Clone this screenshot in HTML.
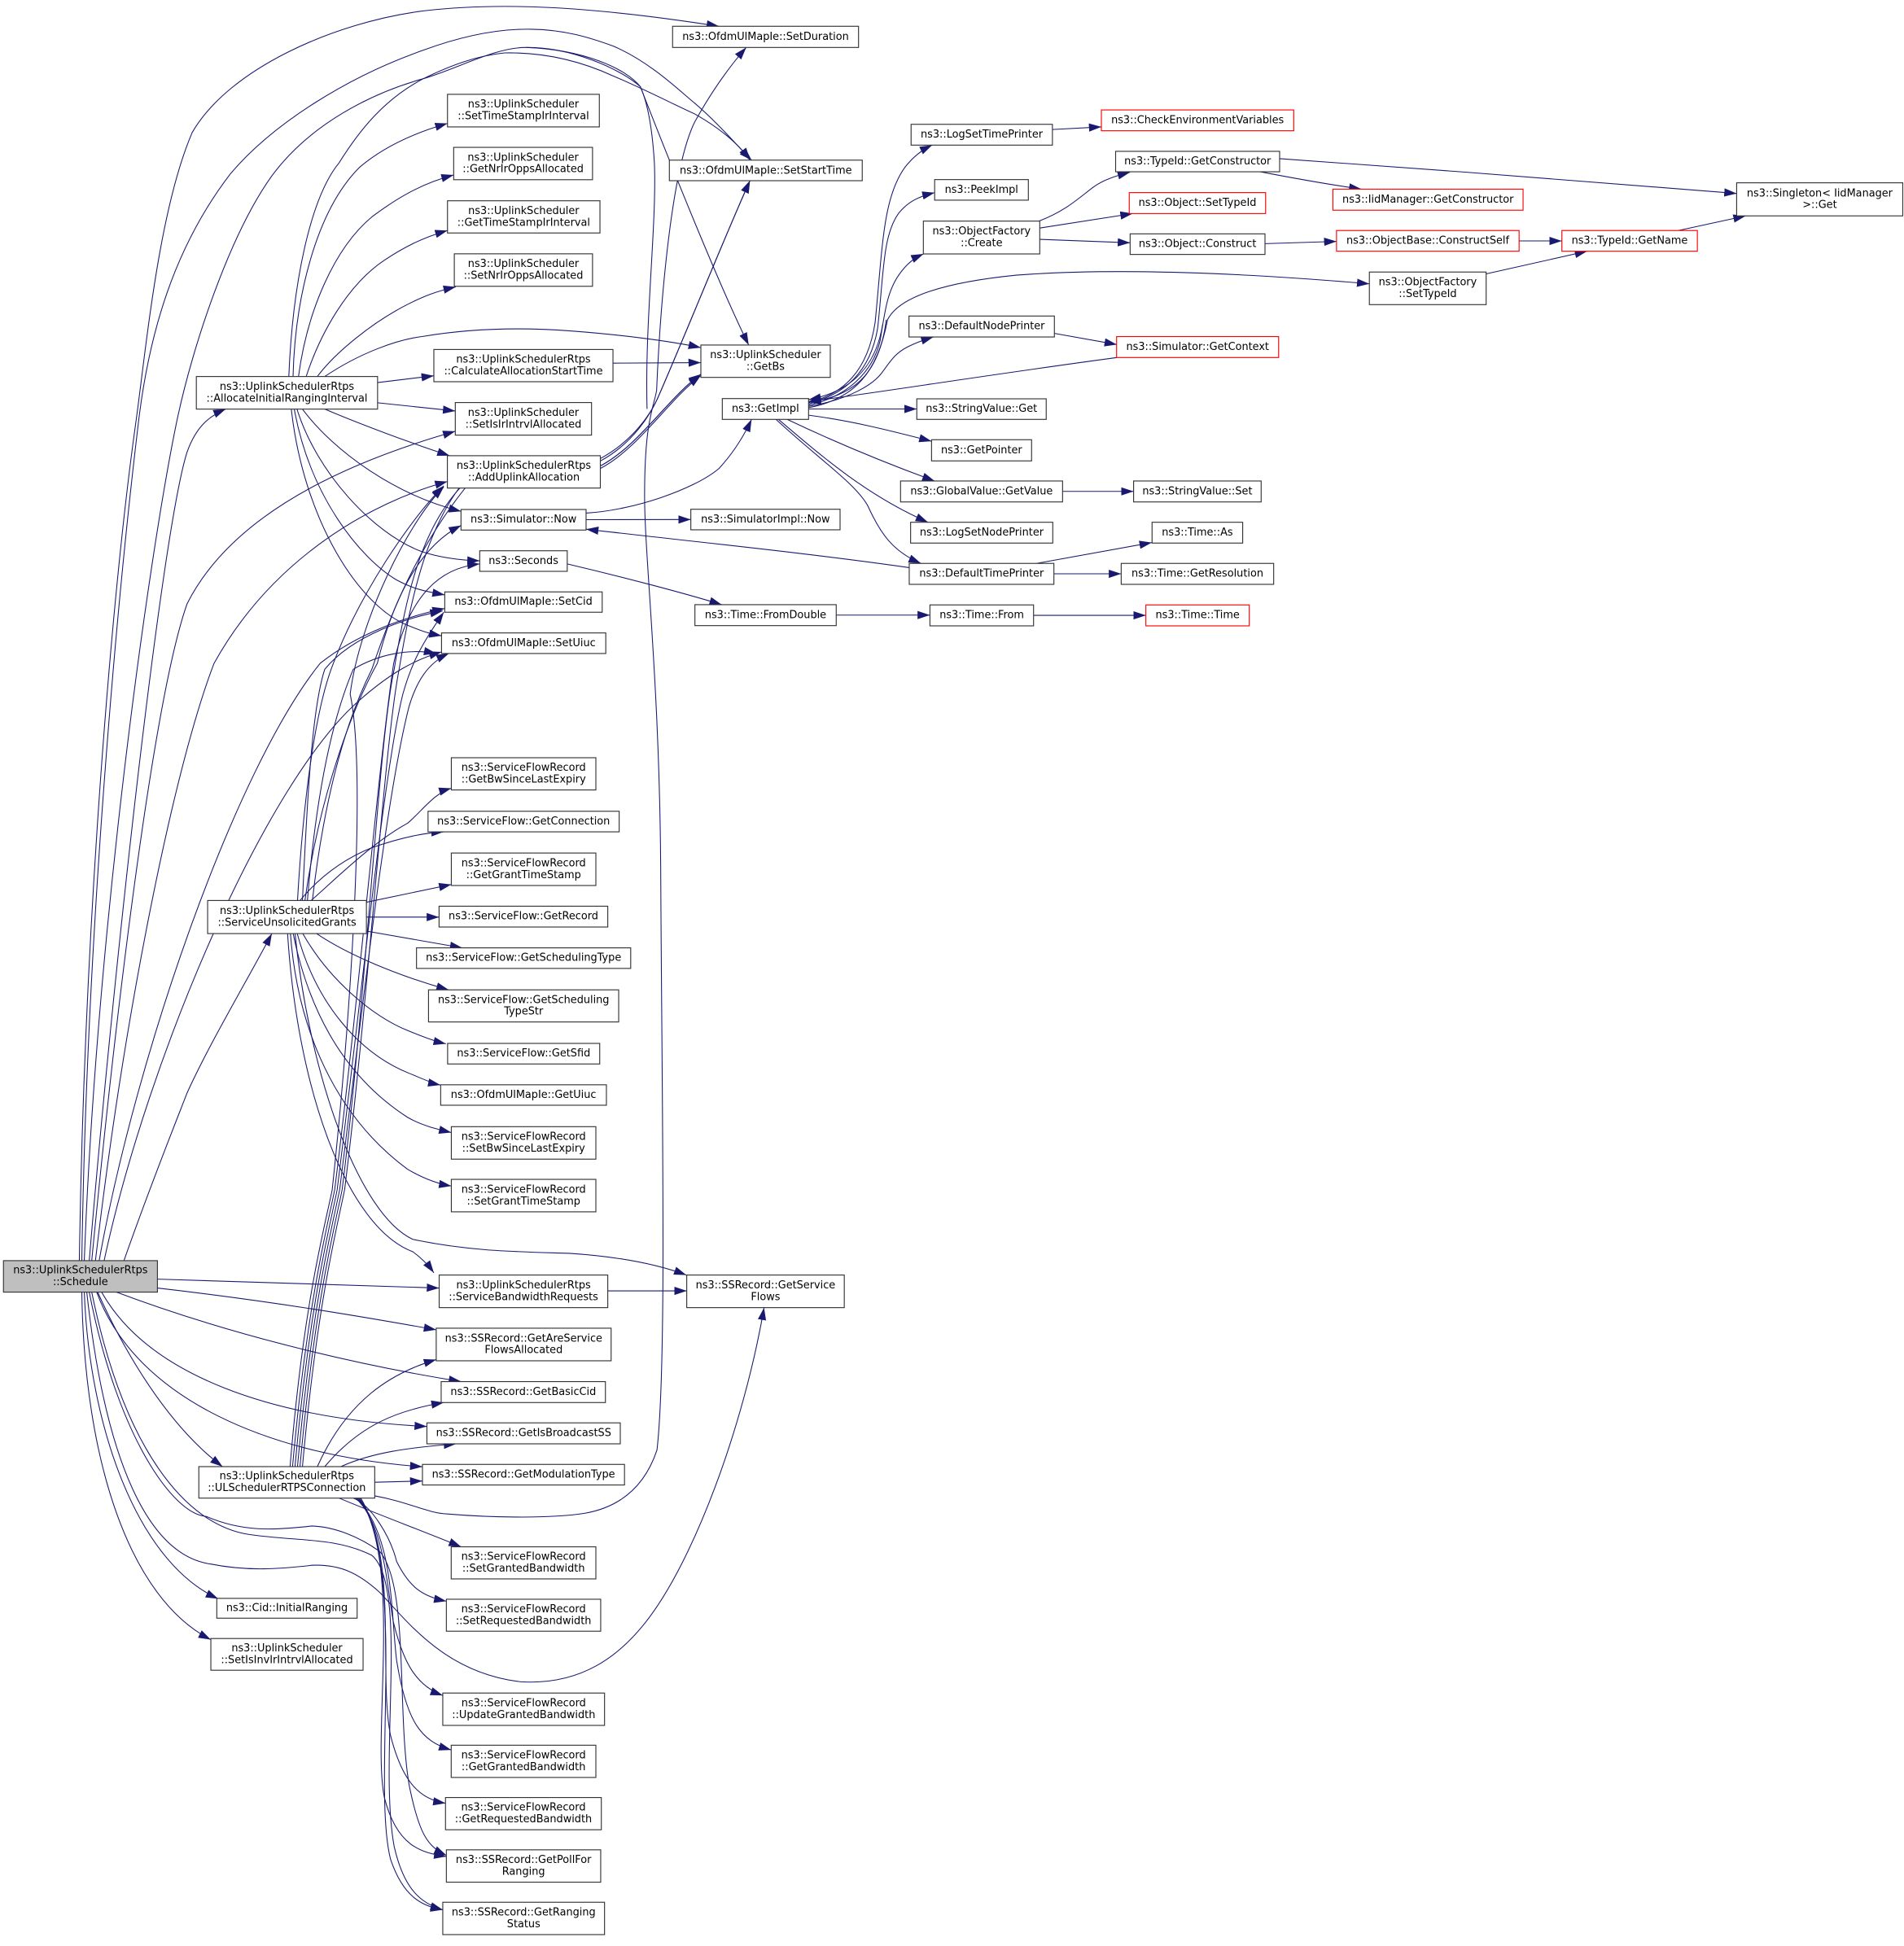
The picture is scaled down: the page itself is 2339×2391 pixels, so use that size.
<!DOCTYPE html>
<html><head><meta charset="utf-8">
<style>
html,body{margin:0;padding:0;background:#fff;}
svg{display:block;}
text{font-family:"DejaVu Sans","Liberation Sans",sans-serif;font-size:8.45px;fill:#000;text-anchor:middle;}
.n{fill:#fff;stroke:#333;stroke-width:0.75;}
.r{fill:#fff;stroke:#ff0000;stroke-width:0.75;}
.g{fill:#bfbfbf;stroke:#333;stroke-width:0.75;}
.e{fill:none;stroke:#191970;stroke-width:0.7;marker-end:url(#a);}
.w{fill:none;stroke:#191970;stroke-width:0.7;}
</style></head>
<body>
<svg xmlns="http://www.w3.org/2000/svg" width="2339" height="2391" viewBox="0 0 1536 1570.2" preserveAspectRatio="none">
<defs>
<marker id="a" markerUnits="userSpaceOnUse" markerWidth="10" markerHeight="7" refX="9.6" refY="3.2" orient="auto" viewBox="0 0 9.6 6.4"><path d="M0,0 L9.6,3.2 L0,6.4 z" fill="#191970"/></marker>
</defs>
<rect x="0" y="0" width="1536" height="1570.2" fill="#fff"/>

<!-- ===== EDGES ===== -->
<!-- right side -->
<path class="e" d="M652,325 C680,318 700,300 706,260 C712,200 712,160 730,135 C737,126 744,121 752,117.1"/>
<path class="e" d="M652,326 C682,318 702,300 708,265 C713,220 712,190 725,172 C733,162 743,158 754,155.5"/>
<path class="e" d="M652,327 C684,320 704,300 710,275 C714,250 716,235 725,222 C732,212 738,208 745,204.9"/>
<path class="e" d="M652,328 C686,322 705,310 712,300 C718,292 722,285 732,280 C740,276 746,274 753,271.9"/>
<path class="e" d="M652,329 C690,322 708,300 716,258 C725,240 760,228 820,222 C900,216 1000,220 1104.7,229"/>
<path class="e" d="M712,262 C706,300 682,317 652.3,322.5"/>
<path class="e" d="M715,258 C709,305 686,320 652.3,324.5"/>
<path class="e" d="M652.3,330 L739.6,330"/>
<path class="e" d="M652.3,335 C690,340 720,348 751.5,356"/>
<path class="e" d="M635,338.4 C670,355 710,372 754,388.1"/>
<path class="e" d="M628,338.4 C665,370 700,400 748.6,421.4"/>
<path class="e" d="M626,338.4 C660,370 690,390 700,408 C710,430 720,445 743,454.6"/>
<path class="e" d="M901,288.5 C800,302 700,318 652.3,324"/>
<path class="e" d="M850.6,269 L901,278"/>
<path class="e" d="M849,104.5 L888.5,102.4"/>
<path class="e" d="M838,178.5 C860,170 870,160 882,151 C890,145 900,142 911.6,139"/>
<path class="e" d="M838.8,184 L913.8,172.3"/>
<path class="e" d="M838.8,193.1 L911.7,195.9"/>
<path class="e" d="M1016.8,138.6 C1050,145 1080,150 1098.3,152.6"/>
<path class="e" d="M1032.3,128 C1150,136 1300,148 1401,156.1"/>
<path class="e" d="M1020.5,196.6 L1078.2,194.8"/>
<path class="e" d="M1225.5,194.4 L1260,194.4"/>
<path class="e" d="M1198.9,221 L1280.4,202.7"/>
<path class="e" d="M1353.9,186 L1408.3,174.2"/>
<path class="e" d="M857.2,396.5 L914.5,396.5"/>
<path class="e" d="M836.2,454.6 L929.2,437.8"/>
<path class="e" d="M850.2,463 L904.5,463"/>
<path class="e" d="M833.8,496.5 L924.4,496.5"/>
<path class="e" d="M674.6,496.3 L750.2,496.3"/>
<path class="e" d="M733.5,458 C650,446 550,436 472.8,427"/>
<path class="e" d="M472.8,419.3 L557.3,419.2"/>
<path class="e" d="M472.8,414 C510,412 560,395 580,378 C592,365 600,352 606.3,338.4"/>
<path class="e" d="M457.6,455 C500,465 550,478 582.3,487.9"/>
<path class="e" d="M494.5,293 L565.4,292.6"/>
<path class="e" d="M490.3,1041.6 L554,1041.6"/>

<!-- AIRI edges -->
<path class="e" d="M262,303.8 C290,285 320,274 341.5,271.4 C380,265 420,264 460,267 C500,270 540,275 565.4,280.5"/>
<path class="e" d="M236.4,303.8 C238,240 255,170 290,135 C310,118 335,107 361,99.6"/>
<path class="e" d="M240.8,303.8 C248,250 270,200 300,175 C320,160 340,148 366,141.2"/>
<path class="e" d="M247,303.8 C258,270 280,230 310,210 C325,200 340,192 361,186"/>
<path class="e" d="M256,303.8 C270,285 300,260 330,245 C342,239 352,235 367.7,231.5"/>
<path class="e" d="M233,303.8 C236,230 250,160 273.6,131.3 C290,105 310,80 341.5,63.5 C365,52 385,45 407,42.7 C440,42 470,50 494.7,61.3 C520,72 545,85 560.4,91.9 C580,103 595,115 605,129.2"/>
<path class="e" d="M304.6,308.7 L350,303.2"/>
<path class="e" d="M304.6,325 L367.3,331.6"/>
<path class="e" d="M262,330.1 C290,342 330,357 362.7,367.7"/>
<path class="e" d="M244,330.1 C270,365 320,400 372,412.6"/>
<path class="e" d="M239.6,330.1 C255,380 300,430 340,445 C355,450 370,452 387,452.5"/>
<path class="e" d="M237.4,330.1 C250,400 290,450 320,468 C333,475 342,477 358.8,480"/>
<path class="e" d="M235,330.1 C245,420 290,490 330,505 C340,509 345,511 356.2,513"/>

<!-- Schedule edges -->
<path class="e" d="M72,1017.2 C90,800 130,430 151,364.5 C158,345 168,336 182.1,330.1"/>
<path class="e" d="M64,1017.2 C68,750 90,480 109.5,341.5 C118,280 128,170 155,107 C185,55 270,18 341.5,8.8 C400,2 470,4 580,21.2"/>
<path class="e" d="M66,1017.2 C70,750 95,480 111.6,341.5 C120,270 140,200 186,140.1 C220,100 280,62 341.5,40.5 C370,30 400,23 429,23.6 C455,24 475,30 494.7,37.2 C525,50 550,75 560.4,83.2 C580,100 595,118 606.3,129.2"/>
<path class="e" d="M68,1017.2 C78,750 120,450 142.3,341.5 C155,280 185,190 219,142.3 C250,100 300,75 341.5,63.5 C370,55 400,38 424.7,38.3 C460,38 500,55 516.6,70 C540,130 580,230 604,278.4"/>
<path class="w" d="M424.7,38.3 C470,40 505,55 516.6,70 C522,82 526,100 527.9,131.3 C530,180 520,260 522,330"/>
<path class="e" d="M74,1017.2 C95,800 125,560 151,487 C190,410 290,370 367.3,348"/>
<path class="e" d="M77,1017.2 C100,820 140,620 172.7,535.2 C220,450 300,405 360.9,388.5"/>
<path class="e" d="M80,1017.2 C110,850 190,620 258.3,535.2 C290,510 330,497 358.8,491"/>
<path class="e" d="M84,1017.2 C120,850 215,630 290,565 C315,543 335,532 356.2,526"/>
<path class="e" d="M100,1017.2 C120,960 140,910 151,881.7 C170,840 200,790 219.3,753.3"/>
<path class="e" d="M127,1032.1 L354.3,1039.3"/>
<path class="e" d="M127,1039.3 C220,1050 290,1062 351.9,1073"/>
<path class="e" d="M94,1042.6 C180,1075 280,1100 372,1114.8"/>
<path class="e" d="M82,1042.6 C120,1110 220,1145 344.4,1151"/>
<path class="e" d="M78,1042.6 C110,1130 220,1175 340.8,1183.5"/>
<path class="e" d="M78.8,1042.6 C100,1090 135,1150 179.5,1183.4"/>
<path class="e" d="M68,1042.6 C72,1150 110,1260 176,1290"/>
<path class="e" d="M66,1042.6 C68,1180 105,1290 170.1,1323"/>
<path class="e" d="M70,1042.6 C85,1180 120,1255 170,1262 C200,1268 225,1266 251.7,1263 C275,1262 290,1270 306.5,1285 C330,1310 360,1350 420,1357 C470,1360 500,1335 520,1310 C560,1260 600,1150 616.4,1055.1"/>
<path class="e" d="M72,1042.6 C95,1160 140,1222 166.4,1223.6 C195,1236 220,1235 251.7,1231.3 C270,1232 290,1240 306.5,1252 C330,1280 320,1380 330,1440 C338,1480 345,1490 360.1,1497"/>
<path class="e" d="M74,1042.6 C100,1170 150,1230 200,1238 C240,1244 270,1240 300,1255 C330,1280 305,1420 318,1490 C326,1525 340,1536 357.2,1541"/>

<!-- SUG edges -->
<path class="e" d="M251,726.6 C270,710 300,680 328.7,664.3 C340,655 350,640 364.1,636"/>
<path class="e" d="M242,726.6 C260,705 280,692 300,684 C320,677 340,672 358,671.2"/>
<path class="e" d="M295.6,728 L364.1,713.7"/>
<path class="e" d="M295.6,740 L354.2,740"/>
<path class="e" d="M295.6,751.3 L373,764.8"/>
<path class="e" d="M255.4,753.3 C280,770 320,787 362,798.7"/>
<path class="e" d="M244.3,753.3 C265,790 300,820 330,832 C340,836 350,840 359.7,842.2"/>
<path class="e" d="M239.8,753.3 C255,810 290,850 330,866 C340,870 348,874 355.3,875.5"/>
<path class="e" d="M236.5,753.3 C250,820 280,870 328.7,901.5 C340,908 352,911 364.1,913.8"/>
<path class="e" d="M234.3,753.3 C240,830 270,900 328.7,943.4 C340,950 352,955 364.1,957"/>
<path class="e" d="M232,753.3 C240,880 280,990 333,1010 C340,1015 345,1020 350,1027"/>
<path class="e" d="M238,753.3 C250,870 290,980 333,1000 C380,1010 420,1010 459.5,1011.3 C500,1014 530,1020 553.7,1028.8"/>
<path class="e" d="M240,726.6 C245,640 255,570 269,535 C290,480 330,420 358,392"/>
<path class="e" d="M244,726.6 C248,640 252,570 262,540 C285,512 330,498 357,493"/>
<path class="e" d="M248,726.6 C255,640 268,580 285,540 C305,528 330,523 352,527.3"/>
<path class="e" d="M246,726.6 C258,640 285,570 304.4,535.2 C318,480 340,440 372,424"/>
<path class="e" d="M252,726.6 C262,640 280,580 300,540 C320,480 345,430 380,388 C420,376 470,377 484.3,378 C515,362 540,322 565.4,303"/>

<!-- ULC edges -->
<path class="e" d="M234,1183.4 C245,1050 262,990 268,960 C285,800 295,620 282.5,560 C290,500 330,420 358,393"/>
<path class="e" d="M236,1183.4 C248,1050 264,990 270,960 C290,800 305,620 317.6,535.2 C330,480 355,458 387,455"/>
<path class="e" d="M238,1183.4 C250,1050 266,990 272,960 C292,800 310,620 325,560 C332,535 340,520 358,494"/>
<path class="e" d="M240,1183.4 C252,1050 268,990 274,960 C294,800 312,640 330,570 C336,550 345,535 362,527.3"/>
<path class="e" d="M242,1183.4 C254,1050 270,990 276,960 C296,800 305,600 318,540 C328,480 340,420 380,385 C420,372 470,373 484.3,376 C515,360 540,320 565.4,302"/>
<path class="e" d="M302.3,1207 C330,1212 345,1221 361,1221.6 C390,1224 440,1226 472,1221 C500,1216 520,1200 530,1170 C538,1100 534,900 533,700 C532,550 520,450 520,400 C520,340 527,330 529.7,315.2 C532,260 540,140 560.4,98.5 C575,72 590,52 602,38.3"/>
<path class="e" d="M273.6,1208.8 C300,1220 340,1235 372,1248.1"/>
<path class="e" d="M285,1208.8 C300,1215 315,1240 320,1260 C330,1280 340,1288 360.1,1292"/>
<path class="e" d="M287,1208.8 C310,1230 312,1280 317.4,1309 C325,1340 335,1360 357.2,1368"/>
<path class="e" d="M288,1208.8 C318,1240 315,1300 320,1340 C328,1390 340,1405 364,1412"/>
<path class="e" d="M289,1208.8 C322,1250 305,1350 315,1400 C325,1440 340,1452 359.4,1455"/>
<path class="e" d="M290,1208.8 C325,1260 300,1400 310,1450 C320,1490 340,1495 360.1,1498"/>
<path class="e" d="M291,1208.8 C328,1270 300,1440 315,1500 C325,1530 340,1538 357.2,1541"/>
<path class="e" d="M256,1183.4 C280,1130 315,1108 351.9,1097"/>
<path class="e" d="M262,1183.4 C290,1150 320,1138 358,1131.7"/>
<path class="e" d="M275,1183.4 C300,1172 330,1168 368,1165"/>
<path class="e" d="M302.3,1196 L340.8,1195"/>
<path class="e" d="M244,1183.4 C256,1050 272,990 278,960 C298,800 310,600 322,540 C332,480 345,420 380,382 C420,370 470,371 484.3,370 C510,356 525,335 532,318 C555,265 585,190 605,145.8"/>

<!-- AUA edges -->
<path class="e" d="M484.3,372 C510,358 525,335 532,318 C555,265 585,190 605,145.8"/>
<path class="e" d="M484.3,376 C515,360 540,320 565.4,302"/>

<!-- ===== NODES ===== -->
<rect class="g" x="2.8" y="1017.2" width="124.2" height="25.4"/>
<text x="64.9" y="1027.5">ns3::UplinkSchedulerRtps</text><text x="64.9" y="1037">::Schedule</text>

<rect class="n" x="158.4" y="303.8" width="146.2" height="26.3"/>
<text x="231.5" y="314.6">ns3::UplinkSchedulerRtps</text><text x="231.5" y="324.1">::AllocateInitialRangingInterval</text>

<rect class="n" x="167.5" y="726.6" width="128.1" height="26.7"/>
<text x="231.55" y="737.6">ns3::UplinkSchedulerRtps</text><text x="231.55" y="747.1">::ServiceUnsolicitedGrants</text>

<rect class="n" x="160.4" y="1183.4" width="141.9" height="25.4"/>
<text x="231.35" y="1193.7">ns3::UplinkSchedulerRtps</text><text x="231.35" y="1203.2">::ULSchedulerRTPSConnection</text>

<rect class="n" x="174.9" y="1289.7" width="113.2" height="16"/>
<text x="231.5" y="1300">ns3::Cid::InitialRanging</text>

<rect class="n" x="170.1" y="1322.1" width="122.8" height="25.6"/>
<text x="231.5" y="1332.5">ns3::UplinkScheduler</text><text x="231.5" y="1342">::SetIsInvIrIntrvlAllocated</text>

<rect class="n" x="361" y="76.1" width="122.5" height="26.3"/>
<text x="422.25" y="86.85">ns3::UplinkScheduler</text><text x="422.25" y="96.35">::SetTimeStampIrInterval</text>

<rect class="n" x="366" y="118.9" width="112" height="26.1"/>
<text x="422" y="129.55">ns3::UplinkScheduler</text><text x="422" y="139.05">::GetNrIrOppsAllocated</text>

<rect class="n" x="361" y="162" width="123" height="26"/>
<text x="422.5" y="172.6">ns3::UplinkScheduler</text><text x="422.5" y="182.1">::GetTimeStampIrInterval</text>

<rect class="n" x="366.5" y="204.8" width="111.5" height="26.2"/>
<text x="422.25" y="215.5">ns3::UplinkScheduler</text><text x="422.25" y="225">::SetNrIrOppsAllocated</text>

<rect class="n" x="350" y="282" width="144.5" height="26"/>
<text x="422.25" y="292.6">ns3::UplinkSchedulerRtps</text><text x="422.25" y="302.1">::CalculateAllocationStartTime</text>

<rect class="n" x="367.3" y="324.8" width="109.9" height="26.3"/>
<text x="422.25" y="335.55">ns3::UplinkScheduler</text><text x="422.25" y="345.05">::SetIsIrIntrvlAllocated</text>

<rect class="n" x="360.9" y="367.7" width="123.4" height="26.1"/>
<text x="422.6" y="378.35">ns3::UplinkSchedulerRtps</text><text x="422.6" y="387.85">::AddUplinkAllocation</text>

<rect class="n" x="371.9" y="411.1" width="100.9" height="16.6"/>
<text x="422.35" y="421.7">ns3::Simulator::Now</text>

<rect class="n" x="387" y="444.4" width="70.6" height="16.6"/>
<text x="422.3" y="455">ns3::Seconds</text>

<rect class="n" x="358.8" y="477.6" width="127" height="16.4"/>
<text x="422.3" y="488.1">ns3::OfdmUlMapIe::SetCid</text>

<rect class="n" x="356.2" y="510.7" width="132.5" height="16.6"/>
<text x="422.45" y="521.3">ns3::OfdmUlMapIe::SetUiuc</text>

<rect class="n" x="364.1" y="611.4" width="116.6" height="26"/>
<text x="422.4" y="622">ns3::ServiceFlowRecord</text><text x="422.4" y="631.5">::GetBwSinceLastExpiry</text>

<rect class="n" x="345.3" y="654.6" width="154.2" height="16.6"/>
<text x="422.4" y="665.2">ns3::ServiceFlow::GetConnection</text>

<rect class="n" x="364.1" y="688.3" width="116.6" height="26.2"/>
<text x="422.4" y="699">ns3::ServiceFlowRecord</text><text x="422.4" y="708.5">::GetGrantTimeStamp</text>

<rect class="n" x="354.2" y="731.2" width="136.1" height="16.8"/>
<text x="422.25" y="741.9">ns3::ServiceFlow::GetRecord</text>

<rect class="n" x="336" y="764.8" width="172.8" height="16.6"/>
<text x="422.4" y="775.4">ns3::ServiceFlow::GetSchedulingType</text>

<rect class="n" x="345.7" y="798.7" width="153.4" height="25.9"/>
<text x="422.4" y="809.25">ns3::ServiceFlow::GetScheduling</text><text x="422.4" y="818.75">TypeStr</text>

<rect class="n" x="361.1" y="841.9" width="122.7" height="16.6"/>
<text x="422.45" y="852.5">ns3::ServiceFlow::GetSfid</text>

<rect class="n" x="355.5" y="875.3" width="133.7" height="16.5"/>
<text x="422.35" y="885.85">ns3::OfdmUlMapIe::GetUiuc</text>

<rect class="n" x="364.1" y="909.1" width="116.6" height="26.2"/>
<text x="422.4" y="919.8">ns3::ServiceFlowRecord</text><text x="422.4" y="929.3">::SetBwSinceLastExpiry</text>

<rect class="n" x="364.1" y="951.6" width="116.6" height="26.2"/>
<text x="422.4" y="962.3">ns3::ServiceFlowRecord</text><text x="422.4" y="971.8">::SetGrantTimeStamp</text>

<rect class="n" x="354.3" y="1028.8" width="136" height="26.3"/>
<text x="422.3" y="1039.55">ns3::UplinkSchedulerRtps</text><text x="422.3" y="1049.05">::ServiceBandwidthRequests</text>

<rect class="n" x="351.9" y="1071.7" width="141.1" height="26.3"/>
<text x="422.45" y="1082.45">ns3::SSRecord::GetAreService</text><text x="422.45" y="1091.95">FlowsAllocated</text>

<rect class="n" x="355.9" y="1114.8" width="132.5" height="16.9"/>
<text x="422.15" y="1125.55">ns3::SSRecord::GetBasicCid</text>

<rect class="n" x="344.4" y="1148.1" width="156" height="16.9"/>
<text x="422.4" y="1158.85">ns3::SSRecord::GetIsBroadcastSS</text>

<rect class="n" x="340.8" y="1181.6" width="163" height="16.6"/>
<text x="422.3" y="1192.2">ns3::SSRecord::GetModulationType</text>

<rect class="n" x="364" y="1248.1" width="116.7" height="25.9"/>
<text x="422.35" y="1258.65">ns3::ServiceFlowRecord</text><text x="422.35" y="1268.15">::SetGrantedBandwidth</text>

<rect class="n" x="360.1" y="1290.4" width="124.5" height="25.8"/>
<text x="422.35" y="1300.9">ns3::ServiceFlowRecord</text><text x="422.35" y="1310.4">::SetRequestedBandwidth</text>

<rect class="n" x="357.2" y="1366.1" width="130.5" height="26.1"/>
<text x="422.45" y="1376.75">ns3::ServiceFlowRecord</text><text x="422.45" y="1386.25">::UpdateGrantedBandwidth</text>

<rect class="n" x="364" y="1408.2" width="116.7" height="26"/>
<text x="422.35" y="1418.8">ns3::ServiceFlowRecord</text><text x="422.35" y="1428.3">::GetGrantedBandwidth</text>

<rect class="n" x="359.4" y="1450.4" width="125.7" height="26"/>
<text x="422.25" y="1461">ns3::ServiceFlowRecord</text><text x="422.25" y="1470.5">::GetRequestedBandwidth</text>

<rect class="n" x="360.1" y="1492.6" width="124.5" height="26.1"/>
<text x="422.35" y="1503.25">ns3::SSRecord::GetPollFor</text><text x="422.35" y="1512.75">Ranging</text>

<rect class="n" x="357.2" y="1534.9" width="130.5" height="26.1"/>
<text x="422.45" y="1545.55">ns3::SSRecord::GetRanging</text><text x="422.45" y="1555.05">Status</text>

<rect class="n" x="542.6" y="21.2" width="150" height="17.1"/>
<text x="617.6" y="32.05">ns3::OfdmUlMapIe::SetDuration</text>

<rect class="n" x="540" y="129.2" width="155.6" height="16.6"/>
<text x="617.8" y="140.1">ns3::OfdmUlMapIe::SetStartTime</text>

<rect class="n" x="565.4" y="278.4" width="104.4" height="26.1"/>
<text x="617.6" y="289.05">ns3::UplinkScheduler</text><text x="617.6" y="298.55">::GetBs</text>

<rect class="n" x="582.7" y="321.6" width="69.6" height="16.8"/>
<text x="617.5" y="332.3">ns3::GetImpl</text>

<rect class="n" x="557.3" y="410.9" width="120.4" height="16.6"/>
<text x="617.5" y="421.5">ns3::SimulatorImpl::Now</text>

<rect class="n" x="560.6" y="487.9" width="114" height="16.9"/>
<text x="617.6" y="498.65">ns3::Time::FromDouble</text>

<rect class="n" x="554" y="1028.8" width="127.1" height="26.3"/>
<text x="617.55" y="1039.55">ns3::SSRecord::GetService</text><text x="617.55" y="1049.05">Flows</text>

<rect class="n" x="735" y="100.3" width="114" height="16.8"/>
<text x="792" y="111">ns3::LogSetTimePrinter</text>

<rect class="n" x="754" y="144.9" width="75.6" height="16.6"/>
<text x="791.8" y="155.5">ns3::PeekImpl</text>

<rect class="n" x="744.9" y="178.4" width="93.9" height="26.5"/>
<text x="791.85" y="189.25">ns3::ObjectFactory</text><text x="791.85" y="198.75">::Create</text>

<rect class="n" x="733.3" y="255" width="117.3" height="16.9"/>
<text x="791.95" y="265.75">ns3::DefaultNodePrinter</text>

<rect class="n" x="739.6" y="321.8" width="104.4" height="16.6"/>
<text x="791.8" y="332.4">ns3::StringValue::Get</text>

<rect class="n" x="751.5" y="354.8" width="80.7" height="17.1"/>
<text x="791.85" y="365.65">ns3::GetPointer</text>

<rect class="n" x="726.5" y="388.1" width="130.7" height="16.9"/>
<text x="791.85" y="398.85">ns3::GlobalValue::GetValue</text>

<rect class="n" x="734.6" y="421.4" width="114.7" height="16.8"/>
<text x="791.95" y="432.1">ns3::LogSetNodePrinter</text>

<rect class="n" x="733.5" y="454.6" width="116.7" height="16.9"/>
<text x="791.85" y="465.35">ns3::DefaultTimePrinter</text>

<rect class="n" x="750.2" y="488.1" width="83.6" height="16.9"/>
<text x="792" y="498.85">ns3::Time::From</text>

<rect class="r" x="888.5" y="88.7" width="155.2" height="16.8"/>
<text x="966.1" y="99.4">ns3::CheckEnvironmentVariables</text>

<rect class="n" x="900" y="122.1" width="132.3" height="16.5"/>
<text x="966.15" y="132.65">ns3::TypeId::GetConstructor</text>

<rect class="r" x="911" y="155.4" width="110" height="16.9"/>
<text x="966" y="166.15">ns3::Object::SetTypeId</text>

<rect class="n" x="911.7" y="188.7" width="108.8" height="16.6"/>
<text x="966.1" y="199.3">ns3::Object::Construct</text>

<rect class="r" x="900.8" y="271.6" width="130.7" height="16.9"/>
<text x="966.15" y="282.35">ns3::Simulator::GetContext</text>

<rect class="n" x="914.5" y="388.1" width="102.9" height="16.9"/>
<text x="965.95" y="398.85">ns3::StringValue::Set</text>

<rect class="n" x="929.4" y="421.4" width="73.1" height="16.8"/>
<text x="965.95" y="432.1">ns3::Time::As</text>

<rect class="n" x="904.5" y="454.6" width="123" height="16.9"/>
<text x="966" y="465.35">ns3::Time::GetResolution</text>

<rect class="r" x="924.4" y="488.1" width="83.4" height="16.9"/>
<text x="966.1" y="498.85">ns3::Time::Time</text>

<rect class="r" x="1075.3" y="152.6" width="153.4" height="17"/>
<text x="1152" y="163.4">ns3::IidManager::GetConstructor</text>

<rect class="r" x="1078.2" y="186" width="147.3" height="16.7"/>
<text x="1151.85" y="196.65">ns3::ObjectBase::ConstructSelf</text>

<rect class="n" x="1104.7" y="219.5" width="94.2" height="26.3"/>
<text x="1151.8" y="230.25">ns3::ObjectFactory</text><text x="1151.8" y="239.75">::SetTypeId</text>

<rect class="r" x="1260" y="186" width="109.3" height="16.7"/>
<text x="1314.65" y="196.65">ns3::TypeId::GetName</text>

<rect class="n" x="1401" y="147.5" width="134" height="26.7"/>
<text x="1468" y="158.45">ns3::Singleton&lt; IidManager</text><text x="1468" y="167.95">&gt;::Get</text>
</svg>
</body></html>
